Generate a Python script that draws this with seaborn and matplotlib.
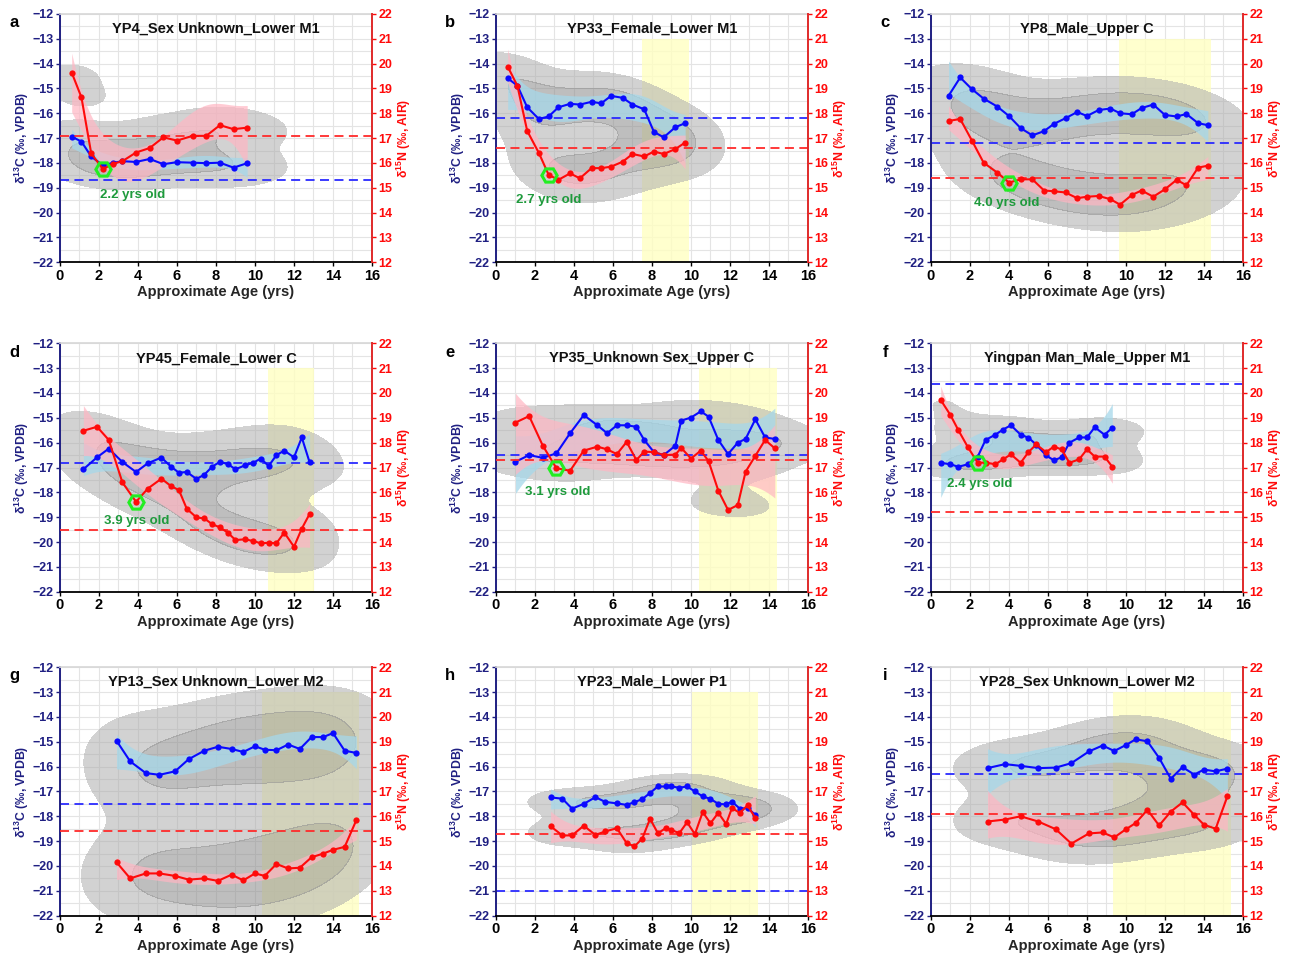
import numpy as np
import pandas as pd
import matplotlib
matplotlib.use("Agg")
import matplotlib.pyplot as plt
import seaborn as sns
from matplotlib.ticker import MultipleLocator
from matplotlib.colors import ListedColormap

sns.set_theme(style="white")
plt.rcParams["font.family"] = ["Liberation Sans", "DejaVu Sans"]
plt.rcParams["font.weight"] = "bold"
plt.rcParams["axes.labelweight"] = "bold"
plt.rcParams["mathtext.fontset"] = "custom"
plt.rcParams["mathtext.rm"] = "Liberation Sans:bold"
plt.rcParams["mathtext.bf"] = "Liberation Sans:bold"
plt.rcParams["axes.unicode_minus"] = True

# ---------------- data ----------------
titles = ["YP4_Sex Unknown_Lower M1", "YP33_Female_Lower M1", "YP8_Male_Upper C",
          "YP45_Female_Lower C", "YP35_Unknown Sex_Upper C", "Yingpan Man_Male_Upper M1",
          "YP13_Sex Unknown_Lower M2", "YP23_Male_Lower P1", "YP28_Sex Unknown_Lower M2"]
letters = ["a", "b", "c", "d", "e", "f", "g", "h", "i"]

age_a = [0.6, 1.1, 1.6, 2.2, 2.7, 3.2, 3.9, 4.6, 5.3, 6.0, 6.8, 7.5, 8.2, 8.9, 9.6]
d13c_a = [-16.94, -17.14, -17.74, -18.1, -18.0, -17.93, -17.96, -17.84, -18.05, -17.97, -17.99, -18.01, -17.99, -18.19, -18.01]
d15n_a = [19.64, 18.64, 16.39, 15.75, 15.96, 16.07, 16.42, 16.6, 17.03, 16.9, 17.09, 17.09, 17.52, 17.36, 17.42]

age_b = [0.6, 1.1, 1.6, 2.2, 2.7, 3.2, 3.8, 4.3, 4.9, 5.4, 5.9, 6.5, 7.0, 7.6, 8.1, 8.6, 9.2, 9.7]
d13c_b = [-14.59, -14.89, -15.76, -16.23, -16.13, -15.76, -15.62, -15.65, -15.54, -15.6, -15.3, -15.38, -15.65, -15.84, -16.75, -16.97, -16.56, -16.4]
d15n_b = [19.88, 19.1, 17.29, 16.4, 15.52, 15.32, 15.58, 15.38, 15.79, 15.79, 15.85, 16.05, 16.36, 16.26, 16.46, 16.36, 16.56, 16.82]

age_c = [0.9, 1.5, 2.1, 2.7, 3.4, 4.0, 4.6, 5.2, 5.8, 6.3, 6.9, 7.5, 8.0, 8.6, 9.2, 9.7, 10.3, 10.8, 11.4, 12.0, 12.6, 13.1, 13.7, 14.2]
d13c_c = [-15.3, -14.56, -15.03, -15.41, -15.73, -16.11, -16.6, -16.89, -16.72, -16.43, -16.2, -15.95, -16.11, -15.87, -15.81, -16.0, -16.04, -15.79, -15.65, -16.07, -16.13, -16.03, -16.4, -16.48]
d15n_c = [17.69, 17.77, 16.9, 16.01, 15.61, 15.21, 15.34, 15.34, 14.89, 14.86, 14.81, 14.58, 14.64, 14.67, 14.54, 14.32, 14.71, 14.89, 14.64, 14.94, 15.32, 15.1, 15.81, 15.89]

age_d = [1.2, 1.9, 2.5, 3.2, 3.9, 4.5, 5.2, 5.7, 6.1, 6.5, 7.0, 7.4, 7.8, 8.2, 8.6, 9.0, 9.5, 9.9, 10.3, 10.7, 11.1, 11.5, 12.0, 12.4, 12.8]
d13c_d = [-17.07, -16.59, -16.24, -16.78, -17.18, -16.83, -16.6, -16.97, -17.21, -17.18, -17.46, -17.29, -16.97, -16.77, -16.86, -17.07, -16.91, -16.81, -16.64, -16.94, -16.5, -16.32, -16.59, -15.79, -16.79]
d15n_d = [18.48, 18.64, 18.11, 16.4, 15.62, 16.15, 16.55, 16.25, 16.09, 15.34, 14.99, 14.95, 14.72, 14.59, 14.38, 14.08, 14.11, 14.04, 13.95, 13.97, 13.95, 14.38, 13.81, 14.54, 15.13]

age_e = [1.0, 1.7, 2.4, 3.1, 3.8, 4.5, 5.2, 5.7, 6.2, 6.7, 7.2, 7.6, 8.1, 8.6, 9.2, 9.5, 10.0, 10.5, 10.9, 11.4, 11.9, 12.4, 12.8, 13.3, 13.8, 14.3]
d13c_e = [-16.77, -16.5, -16.61, -16.43, -15.62, -14.89, -15.3, -15.62, -15.3, -15.3, -15.36, -15.89, -16.38, -16.5, -16.12, -15.11, -14.99, -14.74, -14.95, -15.89, -16.46, -16.0, -15.85, -15.06, -15.79, -15.85]
d15n_e = [18.81, 19.07, 17.88, 16.97, 16.87, 17.68, 17.84, 17.73, 17.54, 18.03, 17.3, 17.64, 17.62, 17.5, 17.52, 17.79, 17.36, 17.68, 17.26, 16.07, 15.29, 15.49, 16.83, 17.47, 18.11, 17.77]

age_f = [0.5, 1.0, 1.4, 1.9, 2.4, 2.8, 3.3, 3.7, 4.1, 4.6, 5.0, 5.4, 5.9, 6.3, 6.7, 7.1, 7.6, 8.0, 8.4, 8.9, 9.3]
d13c_f = [-16.81, -16.87, -16.97, -16.87, -16.56, -15.89, -15.68, -15.47, -15.3, -15.68, -15.8, -16.08, -16.51, -16.71, -16.59, -16.0, -15.79, -15.79, -15.38, -15.68, -15.4]
d15n_f = [19.72, 19.11, 18.51, 17.81, 17.19, 17.2, 17.13, 17.33, 17.53, 17.19, 17.62, 17.93, 17.62, 17.84, 17.73, 17.19, 17.33, 17.73, 17.44, 17.44, 17.03]

age_g = [2.9, 3.6, 4.4, 5.1, 5.9, 6.6, 7.4, 8.1, 8.8, 9.4, 10.0, 10.5, 11.1, 11.7, 12.3, 12.9, 13.5, 14.0, 14.6, 15.2]
d13c_g = [-14.96, -15.79, -16.26, -16.33, -16.19, -15.7, -15.36, -15.2, -15.29, -15.41, -15.18, -15.32, -15.34, -15.11, -15.29, -14.81, -14.81, -14.65, -15.36, -15.45]
d15n_g = [14.15, 13.5, 13.7, 13.7, 13.6, 13.45, 13.5, 13.4, 13.65, 13.42, 13.7, 13.6, 14.08, 13.9, 13.93, 14.35, 14.5, 14.65, 14.77, 15.85]

age_h = [2.8, 3.4, 3.9, 4.5, 5.1, 5.6, 6.2, 6.7, 7.1, 7.5, 7.9, 8.3, 8.7, 9.0, 9.4, 9.8, 10.2, 10.6, 11.0, 11.4, 11.8, 12.1, 12.5, 12.9, 13.3]
d13c_h = [-17.24, -17.29, -17.69, -17.5, -17.23, -17.42, -17.48, -17.54, -17.43, -17.31, -17.06, -16.8, -16.8, -16.8, -16.85, -16.8, -17.0, -17.2, -17.3, -17.5, -17.52, -17.41, -17.69, -17.67, -17.94]
d15n_h = [15.6, 15.23, 15.23, 15.62, 15.25, 15.39, 15.52, 14.92, 14.79, 15.1, 15.9, 15.32, 15.52, 15.45, 15.32, 15.76, 15.28, 16.17, 15.72, 16.14, 15.69, 16.33, 16.14, 16.44, 15.93]

age_i = [2.9, 3.8, 4.6, 5.5, 6.4, 7.2, 8.1, 8.8, 9.4, 10.0, 10.5, 11.1, 11.7, 12.3, 12.9, 13.5, 14.0, 14.6, 15.2]
d13c_i = [-16.06, -15.9, -15.97, -16.06, -16.04, -15.86, -15.39, -15.15, -15.37, -15.13, -14.9, -14.98, -15.65, -16.49, -16.02, -16.32, -16.12, -16.19, -16.08]
d15n_i = [15.79, 15.87, 16.0, 15.79, 15.48, 14.9, 15.31, 15.35, 15.15, 15.48, 15.73, 16.26, 15.63, 16.19, 16.56, 16.06, 15.66, 15.5, 16.8]

ages = [age_a, age_b, age_c, age_d, age_e, age_f, age_g, age_h, age_i]
d13c = [d13c_a, d13c_b, d13c_c, d13c_d, d13c_e, d13c_f, d13c_g, d13c_h, d13c_i]
d15n = [d15n_a, d15n_b, d15n_c, d15n_d, d15n_e, d15n_f, d15n_g, d15n_h, d15n_i]

# reference (dashed) values
base_d13c = [-18.7, -16.2, -17.2, -16.8, -16.5, -13.65, -17.5, -21.0, -16.3]
base_d15n = [17.1, 16.6, 15.4, 14.5, 17.3, 15.2, 15.4, 15.3, 16.1]

# weaning ages and shaded (yellow) age windows
wean_age = [2.2, 2.7, 4.0, 3.9, 3.1, 2.4, None, None, None]
wean_label = ["2.2 yrs old", "2.7 yrs old", "4.0 yrs old", "3.9 yrs old", "3.1 yrs old", "2.4 yrs old", None, None, None]
yellow_start = [None, 7.47, 9.63, 10.69, 10.4, None, 10.38, 10.04, 9.36]
yellow_end = [None, 9.92, 14.35, 13.01, 14.43, None, 15.33, 13.46, 15.37]
yellow_top = -13.0

# ---------------- layout / style ----------------
label_pos = [(3.7, -19.3), (2.72, -19.5), (3.9, -19.6), (3.94, -19.14), (3.18, -18.0), (2.49, -17.68)]
lefts = [0.0464, 0.3836, 0.7200]
bottoms = [0.7265, 0.3830, 0.0452]
W, H = 0.2413, 0.2590
C_LIM = (-22, -12)
N_LIM = (12, 22)
OFFSET = N_LIM[0] - C_LIM[0]

NAVY = "#1f1f82"
BLUE = "#0a0aff"
RED = "#ff0a0a"
RSPINE = "#e02a2a"
GREEN = "#1e9a3c"
gray_cmap = ListedColormap(["#adadad", "#8a8a8a"])


def smooth_band(ax, x, y, color, alpha, deg=3, tval=2.9, zorder=2):
    """Cubic least-squares smooth of the series with its confidence band."""
    X = np.vander(x, deg + 1)
    coef, *_ = np.linalg.lstsq(X, y, rcond=None)
    resid = y - X @ coef
    s2 = resid @ resid / max(len(x) - deg - 1, 1)
    cov = s2 * np.linalg.inv(X.T @ X)
    grid = np.linspace(x.min(), x.max(), 120)
    G = np.vander(grid, deg + 1)
    fit = G @ coef
    se = np.sqrt(np.einsum("ij,jk,ik->i", G, cov, G))
    ax.fill_between(grid, fit - tval * se, fit + tval * se, color=color, alpha=alpha,
                    lw=0, zorder=zorder)


fig = plt.figure(figsize=(12.93, 9.59), dpi=100)

for i in range(9):
    r, c = divmod(i, 3)
    ax1 = fig.add_axes([lefts[c], bottoms[r], W, H])
    ax2 = ax1.twinx()
    age = np.array(ages[i], dtype=float)
    c13 = np.array(d13c[i], dtype=float)
    n15 = np.array(d15n[i], dtype=float)
    n15_on_c = n15 - OFFSET

    # grid
    ax1.xaxis.set_major_locator(MultipleLocator(2))
    ax1.xaxis.set_minor_locator(MultipleLocator(1))
    ax1.yaxis.set_major_locator(MultipleLocator(1))
    ax1.yaxis.set_minor_locator(MultipleLocator(0.5))
    ax1.grid(which="both", color="#e4e4e4", lw=0.8)
    ax1.set_axisbelow(True)

    # yellow window
    if yellow_start[i] is not None:
        ax1.axvspan(yellow_start[i], yellow_end[i], ymin=0,
                    ymax=(yellow_top - C_LIM[0]) / (C_LIM[1] - C_LIM[0]),
                    color="#ffffc2", alpha=0.8, lw=0, zorder=1)

    # gray density region of all measurements (N mapped onto the C scale)
    kx = np.concatenate([age, age])
    ky = np.concatenate([c13, n15_on_c])
    sns.kdeplot(x=kx, y=ky, fill=True, levels=[0.1, 0.5, 1.0], cut=3,
                cmap=gray_cmap, alpha=0.55, bw_adjust=1.0, ax=ax1)

    # smoothing bands
    smooth_band(ax1, age, c13, "#a6d8ea", 0.75)
    smooth_band(ax1, age, n15_on_c, "#ffb6c3", 0.7)

    ax1.axhline(base_d13c[i], color="#2a2aff", lw=1.3, ls=(0, (5, 3)), zorder=2.5)
    sns.lineplot(x=age, y=c13, color=BLUE, marker="o", markersize=4.5, markeredgewidth=0,
                 lw=1.5, ax=ax1, zorder=4, sort=False, estimator=None)

    ax2.axhline(base_d15n[i], color="#ff2a2a", lw=1.3, ls=(0, (5, 3)), zorder=2.5)
    sns.lineplot(x=age, y=n15, color=RED, marker="o", markersize=4.5, markeredgewidth=0,
                 lw=1.5, ax=ax2, zorder=4, sort=False, estimator=None)

    if wean_age[i] is not None:
        k = int(np.argmin(np.abs(age - wean_age[i])))
        ax2.plot([wean_age[i]], [n15[k]], marker="H", ms=11, mfc="none", mec="#22ee22",
                 mew=2.2, zorder=6)
        tx, ty = label_pos[i]
        ax2.text(tx, ty, wean_label[i], transform=ax1.transData, color=GREEN, fontsize=9.5,
                 fontweight="bold", ha="center", va="center", zorder=7)

    # limits and axes styling
    ax1.set_xlim(0, 16)
    ax1.set_ylim(*C_LIM)
    ax2.set_ylim(*N_LIM)
    ax2.yaxis.set_major_locator(MultipleLocator(1))

    ax1.tick_params(axis="y", which="major", colors=NAVY, labelsize=9, length=3, width=1, pad=1.5, left=True)
    ax1.tick_params(axis="x", which="major", colors="black", labelsize=10.5, length=3, width=1, pad=1.5, bottom=True)
    ax1.tick_params(which="minor", length=0)
    ax2.tick_params(axis="y", which="major", colors=RED, labelsize=9, length=3, width=1, pad=1.5, right=True)
    for t in ax1.get_xticklabels() + ax1.get_yticklabels() + ax2.get_yticklabels():
        t.set_fontweight("bold")

    ax1.spines["left"].set_color(NAVY)
    ax1.spines["left"].set_linewidth(1.4)
    ax1.spines["bottom"].set_color("black")
    ax1.spines["bottom"].set_linewidth(1.3)
    ax1.spines["top"].set_color("#d8d8d8")
    ax1.spines["right"].set_visible(False)
    for s in ["left", "top", "bottom"]:
        ax2.spines[s].set_visible(False)
    ax2.spines["right"].set_color(RSPINE)
    ax2.spines["right"].set_linewidth(1.4)

    ax1.set_xlabel("Approximate Age (yrs)", fontsize=10.5, fontweight="bold", labelpad=2)
    ax1.set_ylabel(r"δ$^{\mathrm{13}}$C (‰, VPDB)", fontsize=8.8, fontweight="bold", color=NAVY, labelpad=1)
    ax2.set_ylabel(r"δ$^{\mathrm{15}}$N (‰, AIR)", fontsize=8.8, fontweight="bold", color=RED, labelpad=2)

    ax1.text(0.5, 0.94, titles[i], transform=ax1.transAxes, ha="center", va="center",
             fontsize=10.5, fontweight="bold", color="#111111", zorder=8)
    ax1.text(-0.147, 0.965, letters[i], transform=ax1.transAxes, ha="center", va="center",
             fontsize=12, fontweight="bold", color="black")

fig.savefig("out.png", dpi=100)
